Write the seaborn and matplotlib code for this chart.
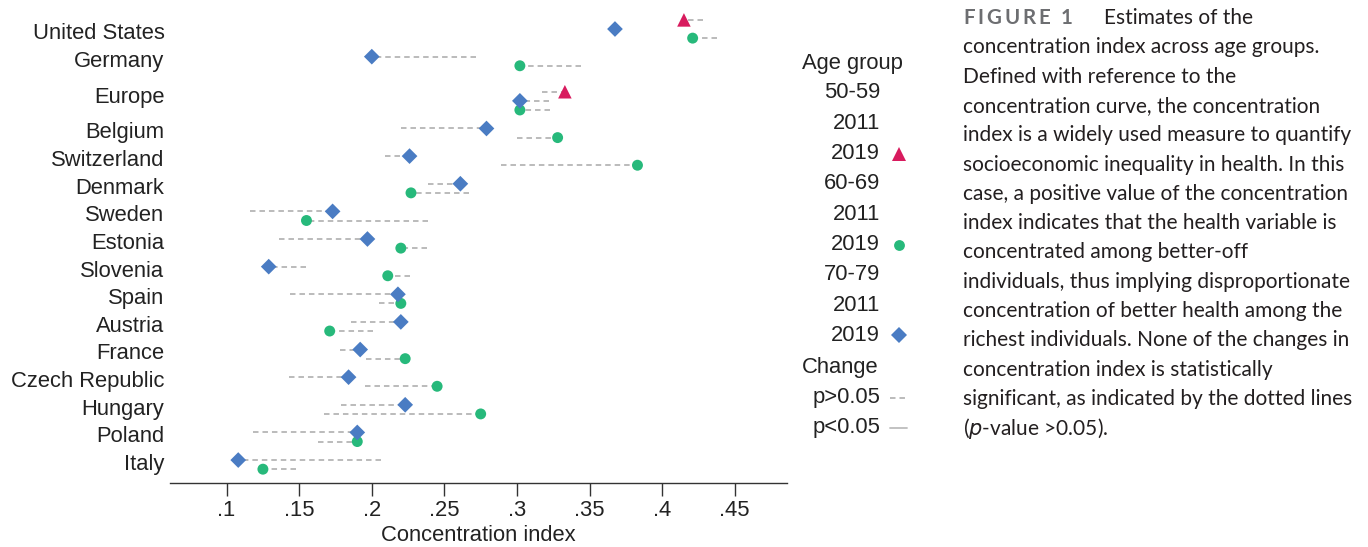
import numpy as np
import pandas as pd
import matplotlib
matplotlib.use("Agg")
import matplotlib.pyplot as plt
from matplotlib.lines import Line2D
import seaborn as sns

# ---------------- data ----------------
countries = ["United States", "Germany", "Europe", "Belgium", "Switzerland",
             "Denmark", "Sweden", "Estonia", "Slovenia", "Spain", "Austria",
             "France", "Czech Republic", "Hungary", "Poland", "Italy"]
nan = np.nan
age5059_2011 = [0.428, nan, 0.317, nan, nan, nan, nan, nan, nan, nan, nan, nan, nan, nan, nan, nan]
age5059_2019 = [0.415, nan, 0.333, nan, nan, nan, nan, nan, nan, nan, nan, nan, nan, nan, nan, nan]
age6069_2011 = [0.438, 0.344, 0.323, 0.300, 0.289, 0.267, 0.239, 0.238,
                0.226, 0.205, 0.201, 0.196, 0.195, 0.167, 0.163, 0.148]
age6069_2019 = [0.421, 0.302, 0.302, 0.328, 0.383, 0.227, 0.155, 0.220,
                0.211, 0.220, 0.171, 0.223, 0.245, 0.275, 0.190, 0.125]
age7079_2011 = [0.369, 0.272, 0.322, 0.220, 0.209, 0.239, 0.116, 0.136,
                0.155, 0.144, 0.186, 0.178, 0.143, 0.179, 0.118, 0.206]
age7079_2019 = [0.3675, 0.200, 0.302, 0.279, 0.226, 0.261, 0.173, 0.197,
                0.129, 0.218, 0.220, 0.192, 0.184, 0.223, 0.190, 0.108]
age_groups = ["50-59", "60-69", "70-79"]
xticks = [0.1, 0.15, 0.2, 0.25, 0.3, 0.35, 0.4, 0.45]
xtick_labels = [".1", ".15", ".2", ".25", ".3", ".35", ".4", ".45"]

caption_lines = [
    "Estimates of the",
    "concentration index across age groups.",
    "Defined with reference to the",
    "concentration curve, the concentration",
    "index is a widely used measure to quantify",
    "socioeconomic inequality in health. In this",
    "case, a positive value of the concentration",
    "index indicates that the health variable is",
    "concentrated among better-off",
    "individuals, thus implying disproportionate",
    "concentration of better health among the",
    "richest individuals. None of the changes in",
    "concentration index is statistically",
    "significant, as indicated by the dotted lines",
]

# ---------------- styling ----------------
colors = {"50-59": "#d81b5e", "60-69": "#27b97b", "70-79": "#4a7cc3"}
markers = {"50-59": "^", "60-69": "o", "70-79": "D"}
sizes = {"50-59": 95, "60-69": 62, "70-79": 64}
row_offset = {"50-59": -0.33, "60-69": 0.33, "70-79": 0.0}
dash_color = "#a8a8a8"
text_color = "#222222"

sns.set_theme(style="white")
plt.rcParams['font.family'] = ['Liberation Sans', 'DejaVu Sans']

idx = np.arange(len(countries))
base = idx + np.where(idx >= 2, 0.6, 0.0)

vals11 = {"50-59": age5059_2011, "60-69": age6069_2011, "70-79": age7079_2011}
vals19 = {"50-59": age5059_2019, "60-69": age6069_2019, "70-79": age7079_2019}
rows = []
for g in age_groups:
    for i, c in enumerate(countries):
        rows.append({"country": c, "age": g, "ci2011": vals11[g][i],
                     "ci2019": vals19[g][i], "y": base[i] + row_offset[g]})
df = pd.DataFrame(rows).dropna()

W, H = 1368, 547
fig = plt.figure(figsize=(W / 100, H / 100), dpi=100)
ax = fig.add_axes([170 / W, 64 / H, 617 / W, 483 / H])

ax.hlines(df["y"], df["ci2011"], df["ci2019"], colors=dash_color,
          linestyles=(0, (3.6, 2.6)), linewidth=1.1, zorder=1)
sns.scatterplot(data=df, x="ci2019", y="y", hue="age", style="age", size="age",
                palette=colors, markers=markers, sizes=sizes, linewidth=0,
                legend=False, ax=ax, zorder=3)

ax.set_xlim(0.061, 0.486)
ax.set_ylim(base[-1] + 0.83, -1.05)
ax.set_xticks(xticks)
ax.set_xticklabels(xtick_labels)
tick_pos = base + 0.07
tick_pos[2] = base[2] - 0.22
ax.set_yticks(tick_pos)
ax.set_yticklabels(countries)
for s in ["top", "left", "right"]:
    ax.spines[s].set_visible(False)
ax.spines["bottom"].set_color("#333333")
ax.spines["bottom"].set_linewidth(1.0)
ax.tick_params(axis="x", length=9, width=1, color="#333333", pad=3,
               labelsize=15.8, labelcolor=text_color, bottom=True, direction="out")
ax.tick_params(axis="y", length=0, pad=4, labelsize=15.8, labelcolor=text_color)
ax.set_xlabel("Concentration index", fontsize=15.8, color=text_color, labelpad=3)
ax.set_ylabel("")
ax.grid(False)

# ---------------- legend (manual, figure coords) ----------------
def fy(px):
    return 1 - px / H

fs = 15.8
fig.text(802 / W, fy(63), "Age group", fontsize=fs, color=text_color, ha="left", va="center")
legend_rows = [("50-59", None), ("2011", None), ("2019", "50-59"),
               ("60-69", None), ("2011", None), ("2019", "60-69"),
               ("70-79", None), ("2011", None), ("2019", "70-79")]
for k, (lab, g) in enumerate(legend_rows):
    ypx = 93 + 30.3 * k
    fig.text(880 / W, fy(ypx), lab, fontsize=fs, color=text_color, ha="right", va="center")
    if g is not None:
        ms = {"50-59": 9.5, "60-69": 7.8, "70-79": 7.8}[g]
        fig.add_artist(Line2D([899 / W], [fy(ypx)], marker=markers[g], color=colors[g],
                              markersize=ms, markeredgewidth=0, linestyle="none",
                              transform=fig.transFigure))
fig.text(802 / W, fy(367), "Change", fontsize=fs, color=text_color, ha="left", va="center")
fig.text(880 / W, fy(398), "p>0.05", fontsize=fs, color=text_color, ha="right", va="center")
fig.text(880 / W, fy(428), "p<0.05", fontsize=fs, color=text_color, ha="right", va="center")
fig.add_artist(Line2D([890 / W, 907 / W], [fy(398), fy(398)], color=dash_color,
                      linestyle=(0, (3.6, 2.6)), linewidth=1.1, transform=fig.transFigure))
fig.add_artist(Line2D([890 / W, 907 / W], [fy(428), fy(428)], color="#bdbdbd",
                      linestyle="-", linewidth=1.3, transform=fig.transFigure))

# ---------------- caption ----------------
cap_font = ["Lato", "DejaVu Sans"]
cap_color = "#231f20"
x0 = 963
line_h = 29.3
y0 = 18
renderer = fig.canvas.get_renderer()

# fit caption size so the longest line spans the same width as the reference
probe = fig.text(0, 0, caption_lines[-1], fontsize=14, family=cap_font)
pw = probe.get_window_extent(renderer).width
probe.remove()
cap_fs = 14 * 390.0 / pw

# "FIGURE 1" label, bold and letter-spaced
label = "FIGURE 1"
fig_fs = cap_fs * 0.98
chars = []
for ch in label:
    t = fig.text(0, fy(y0), ch, fontsize=fig_fs, fontweight="bold", color="#6d6e71",
                 family=cap_font, ha="left", va="center")
    w = t.get_window_extent(renderer).width if ch != " " else 4.5
    chars.append((t, w))
total = sum(w for _, w in chars)
track = max(0.0, (110 - total) / (len(label) - 1))
xx = x0
for t, w in chars:
    t.set_x(xx / W)
    xx += w + track

fig.text(1104 / W, fy(y0), caption_lines[0], fontsize=cap_fs, color=cap_color,
         family=cap_font, ha="left", va="center")
for k, line in enumerate(caption_lines[1:], start=1):
    fig.text(x0 / W, fy(y0 + line_h * k), line, fontsize=cap_fs, color=cap_color,
             family=cap_font, ha="left", va="center")
fig.text(x0 / W, fy(y0 + line_h * 14), r"($\it{p}$-value >0.05).", fontsize=cap_fs,
         color=cap_color, family=cap_font, ha="left", va="center")

fig.savefig("out.png", dpi=100)
